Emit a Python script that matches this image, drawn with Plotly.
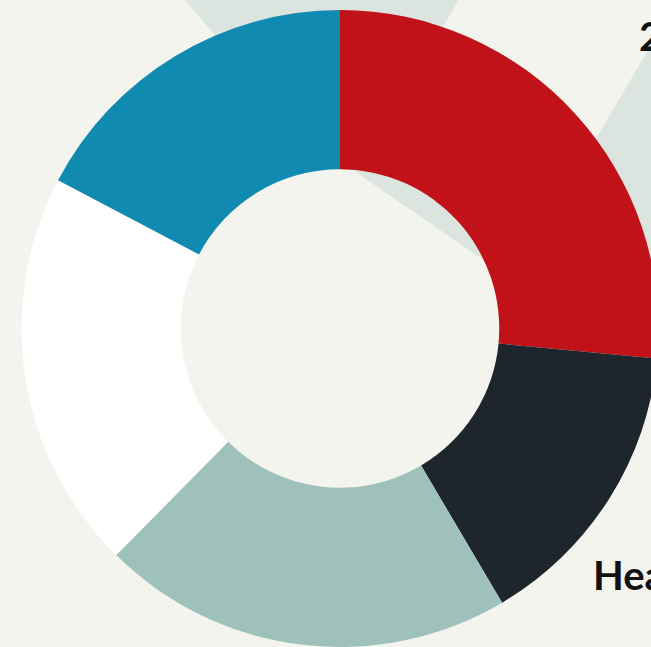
import plotly.graph_objects as go

# ---- data ----
categories = ["Housing", "Healthcare", "Food", "Transport", "Other"]
values = [26.5, 15.0, 20.9, 20.3, 17.3]
colors = ["#C1121A", "#1F252C", "#9FC1BB", "#FFFFFF", "#118AB2"]
label_texts = ["26.5%", "Healthcare"]

W, H = 670, 647
BG = "#F3F4EE"
BLOB = "#DBE4DF"

cx, cy, r = 340, 328.5, 318.5


def px(x, y):
    return x / W, 1 - y / H


def path(cmds):
    out = []
    for c in cmds:
        op, pts = c[0], c[1:]
        s = op
        coords = []
        for (x, y) in pts:
            a, b = px(x, y)
            coords.append(f"{a:.5f},{b:.5f}")
        out.append(s + " " + " ".join(coords))
    return " ".join(out) + " Z"


blob_path = path([
    ("M", (160, -30)),
    ("L", (466, -30)),
    ("L", (462, -6)),
    ("Q", (452, 12), (441, 30)),
    ("L", (520, 130)),
    ("Q", (570, 175), (597, 137)),
    ("L", (651, 45)),
    ("L", (678, -30)),
    ("L", (720, -30)),
    ("L", (720, 330)),
    ("L", (600, 340)),
    ("L", (312, 142)),
    ("Q", (297, 132), (286, 118)),
    ("L", (185, 0)),
    ("L", (160, -30)),
])

fig = go.Figure()
fig.add_trace(go.Pie(
    labels=categories,
    values=values,
    marker=dict(colors=colors, line=dict(width=0)),
    hole=0.5,
    sort=False,
    direction="clockwise",
    rotation=0,
    textinfo="none",
    hoverinfo="label+percent",
    showlegend=False,
    domain=dict(x=[(cx - r) / W, (cx + r) / W], y=[0, (2 * r) / H]),
))

fig.add_shape(type="path", path=blob_path, xref="paper", yref="paper",
              fillcolor=BLOB, line=dict(width=0), layer="below")

ax, ay = px(637, 36.5)
fig.add_annotation(text=label_texts[0], x=ax, y=ay, xref="paper", yref="paper",
                   xanchor="left", yanchor="middle", showarrow=False,
                   font=dict(family="Lato", size=40, color="#111111", weight=700))
ax, ay = px(591, 574.5)
fig.add_annotation(text=label_texts[1], x=ax, y=ay, xref="paper", yref="paper",
                   xanchor="left", yanchor="middle", showarrow=False,
                   font=dict(family="Lato", size=40, color="#111111", weight=700))

fig.update_layout(
    width=W, height=H,
    margin=dict(l=0, r=0, t=0, b=0),
    paper_bgcolor=BG, plot_bgcolor=BG,
    showlegend=False,
)

fig.write_html("out.html")
